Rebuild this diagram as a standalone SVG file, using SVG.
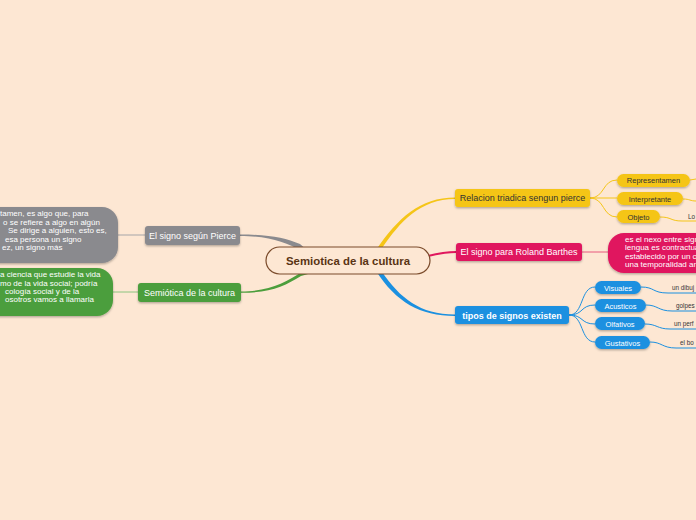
<svg xmlns="http://www.w3.org/2000/svg" width="696" height="520" viewBox="0 0 696 520">
<style>
text{font-family:"Liberation Sans",Arial,sans-serif}
.lbl{font-size:9px;text-anchor:middle}
.w{fill:#ffffff}
.sm{font-size:8px;fill:#ffffff}
.tiny{font-size:6.3px;fill:#333333}
.c{fill:none;stroke-linecap:round}
</style>
<defs>
<filter id="sh" x="-10%" y="-10%" width="120%" height="140%"><feDropShadow dx="0" dy="1.2" stdDeviation="0.8" flood-color="#000" flood-opacity="0.3"/></filter>
</defs>
<rect width="696" height="520" fill="#fde7d3"/>
<g id="connectors">
<path d="M240,234.5 C270,234.5 285,238 300,244 L307,250 L303,251.5 C285,242 270,236 240,236 Z" fill="#8a8a8e"/>
<path d="M241,291.5 C270,291 285,283 303,271 L308,274 L301,276 C285,286 270,293 241,292.8 Z" fill="#4c9e3c"/>
<path d="M455,197.5 C420,197.5 398,218 376,250 L382,248 C400,222 420,199 455,199 Z" fill="#f5c518"/>
<path class="c" d="M428,256 C440,253 445,252 456,252" stroke="#e0185e" stroke-width="2"/>
<path d="M455,314.5 C420,314.5 400,298 382,272 L376,271 C396,302 420,316 455,316 Z" fill="#1b90e0"/>
<path class="c" d="M118,235 L145,235" stroke="#a5a5a8" stroke-width="1"/>
<path class="c" d="M113,292 L138,292" stroke="#8cc47e" stroke-width="1"/>
<path class="c" d="M582,252 L608,252" stroke="#e8597f" stroke-width="1"/>
<g stroke="#f5c518" stroke-width="1" fill="none">
<path d="M590,198 C605,198 602,180 617,180"/>
<path d="M590,198 L617,198"/>
<path d="M590,198 C605,198 602,217 617,217"/>
<path d="M690,180 L696,179"/>
<path d="M683,199 C690,199 690,201 696,201"/>
<path d="M660,217 C672,217 670,221 682,221 L696,221"/>
</g>
<g stroke="#1b90e0" stroke-width="1" fill="none">
<path d="M569,315 C584,315 580,287 595,287"/>
<path d="M569,315 C584,315 580,305 595,305"/>
<path d="M569,315 C584,315 580,324 595,324"/>
<path d="M569,315 C584,315 580,342 595,342"/>
<path d="M641,287 C655,287 652,293 668,293 L696,293"/>
<path d="M646,305 C658,305 658,311 672,311 L696,311"/>
<path d="M645,324 C657,324 657,329 670,329 L696,329"/>
<path d="M650,342 C662,342 662,348 676,348 L696,348"/>
</g>
</g>
<g id="central">
<rect x="266" y="247" width="164" height="27" rx="13.5" fill="#fde7d3" stroke="#7a4a2a" stroke-width="1.2"/>
<text x="348" y="265" text-anchor="middle" font-size="11.4" font-weight="bold" fill="#5a3414">Semiotica de la cultura</text>
</g>
<g id="pierce">
<rect x="145" y="226" width="95" height="19" rx="3" fill="#8a8a8e" filter="url(#sh)"/>
<text class="lbl w" x="192.5" y="238.5">El signo según Pierce</text>
</g>
<g id="pierce-text">
<rect x="-30" y="207" width="148" height="56" rx="16" fill="#8a8a8e" filter="url(#sh)"/>
<text class="sm"><tspan x="0" y="216">tamen, es algo que, para</tspan><tspan x="3" y="225">o se refiere a algo en algún</tspan><tspan x="8" y="233">Se dirige a alguien, esto es,</tspan><tspan x="5" y="242">esa persona un signo</tspan><tspan x="2" y="250">ez, un signo más</tspan></text>
</g>
<g id="semiotica">
<rect x="138" y="283" width="103" height="19" rx="3" fill="#4c9e3c" filter="url(#sh)"/>
<text class="lbl w" x="189.5" y="295.5">Semiótica de la cultura</text>
</g>
<g id="semiotica-text">
<rect x="-30" y="268" width="143" height="48" rx="16" fill="#4c9e3c" filter="url(#sh)"/>
<text class="sm"><tspan x="0" y="277">a ciencia que estudie la vida</tspan><tspan x="0" y="286">mo de la vida social; podría</tspan><tspan x="5" y="294">cología social y de la</tspan><tspan x="5" y="302">osotros vamos a llamarla</tspan></text>
</g>
<g id="relacion">
<rect x="455" y="189" width="135" height="18" rx="3" fill="#f5c518" filter="url(#sh)"/>
<text class="lbl" x="522.5" y="201" fill="#333333">Relacion triadica sengun pierce</text>
</g>
<g id="representamen">
<rect x="617" y="174" width="73" height="13" rx="6.5" fill="#f5c518" filter="url(#sh)"/>
<text x="653.5" y="183.2" font-size="7.5" text-anchor="middle" fill="#333333">Representamen</text>
</g>
<g id="interpretante">
<rect x="617" y="192" width="66" height="13" rx="6.5" fill="#f5c518" filter="url(#sh)"/>
<text x="650" y="201.5" font-size="7.5" text-anchor="middle" fill="#333333">Interpretante</text>
</g>
<g id="objeto">
<rect x="617" y="210" width="43" height="13" rx="6.5" fill="#f5c518" filter="url(#sh)"/>
<text x="638.5" y="219.5" font-size="7.5" text-anchor="middle" fill="#333333">Objeto</text>
</g>
<g id="objeto-text"><text class="tiny" x="688" y="219">Lo</text></g>
<g id="barthes">
<rect x="456" y="243" width="126" height="18" rx="3" fill="#e0185e" filter="url(#sh)"/>
<text class="lbl w" x="519" y="255">El signo para Roland Barthes</text>
</g>
<g id="barthes-text">
<rect x="608" y="233" width="120" height="40" rx="16" fill="#e0185e" filter="url(#sh)"/>
<text class="sm" font-size="7.7"><tspan x="625" y="242">es el nexo entre sign</tspan><tspan x="625" y="250">lengua es contractua</tspan><tspan x="625" y="259">establecido por un c</tspan><tspan x="625" y="267">una temporalidad an</tspan></text>
</g>
<g id="tipos">
<rect x="455" y="306" width="114" height="18" rx="3" fill="#1b90e0" filter="url(#sh)"/>
<text class="lbl w" x="512" y="318.5" font-weight="bold">tipos de signos existen</text>
</g>
<g id="visuales">
<rect x="595" y="281" width="46" height="13" rx="6.5" fill="#1b90e0" filter="url(#sh)"/>
<text x="618" y="290.5" font-size="7.5" text-anchor="middle" fill="#ffffff">Visuales</text>
</g>
<g id="acusticos">
<rect x="595" y="299" width="51" height="13" rx="6.5" fill="#1b90e0" filter="url(#sh)"/>
<text x="620.5" y="308.5" font-size="7.5" text-anchor="middle" fill="#ffffff">Acusticos</text>
</g>
<g id="olfativos">
<rect x="595" y="317" width="50" height="13" rx="6.5" fill="#1b90e0" filter="url(#sh)"/>
<text x="620" y="326.5" font-size="7.5" text-anchor="middle" fill="#ffffff">Olfativos</text>
</g>
<g id="gustativos">
<rect x="595" y="336" width="55" height="13" rx="6.5" fill="#1b90e0" filter="url(#sh)"/>
<text x="622.5" y="345.5" font-size="7.5" text-anchor="middle" fill="#ffffff">Gustativos</text>
</g>
<g id="leaf-texts">
<text class="tiny" x="672" y="290">un dibuj</text>
<text class="tiny" x="676" y="308">golpes</text>
<text class="tiny" x="674" y="326">un perf</text>
<text class="tiny" x="680" y="345">el bo</text>
</g>
</svg>
